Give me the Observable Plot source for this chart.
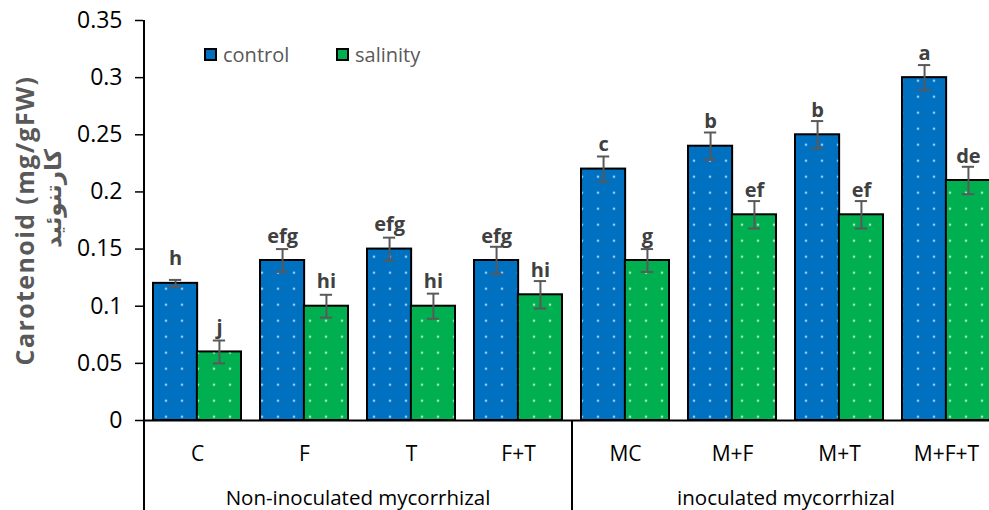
<!DOCTYPE html>
<html>
<head>
<meta charset="utf-8">
<script src="https://cdn.jsdelivr.net/npm/d3@7"></script>
<script src="https://cdn.jsdelivr.net/npm/@observablehq/plot@0.6"></script>
<style>
  html, body { margin: 0; padding: 0; background: #fff; }
  #wrap { position: relative; width: 989px; height: 510px; overflow: hidden; font-family: 'Open Sans', sans-serif; }
  .leg { position: absolute; display: flex; align-items: center; font-size: 20px; color: #595959; }
  .sw { width: 9px; height: 9px; border: 2px solid #000; margin-right: 6px; }
</style>
</head>
<body>
<svg width="0" height="0" style="position:absolute">
  <defs>
    <pattern id="dotBlue" patternUnits="userSpaceOnUse" width="16" height="16" x="14" y="8.7">
      <rect width="16" height="16" fill="#0070C0"></rect>
      <circle cx="8" cy="8" r="1.3" fill="#9CC8EE"></circle>
    </pattern>
    <pattern id="dotGreen" patternUnits="userSpaceOnUse" width="16" height="16" x="14" y="8.7">
      <rect width="16" height="16" fill="#00B050"></rect>
      <circle cx="8" cy="8" r="1.3" fill="#A6E6BE"></circle>
    </pattern>
  </defs>
</svg>
<div id="wrap"></div>
<script>
// ---- data ----
const categories = ["C", "F", "T", "F+T", "MC", "M+F", "M+T", "M+F+T"];
const control = [0.12, 0.14, 0.15, 0.14, 0.22, 0.24, 0.25, 0.30];
const salinity = [0.06, 0.10, 0.10, 0.11, 0.14, 0.18, 0.18, 0.21];
const controlErr = [0.003, 0.010, 0.010, 0.012, 0.011, 0.012, 0.012, 0.011];
const salinityErr = [0.010, 0.010, 0.011, 0.012, 0.010, 0.012, 0.012, 0.012];
const controlLetters = ["h", "efg", "efg", "efg", "c", "b", "b", "a"];
const salinityLetters = ["j", "hi", "hi", "hi", "g", "ef", "ef", "de"];
const groupNames = ["Non-inoculated mycorrhizal", "inoculated mycorrhizal"];
const groupFirst = ["C", "MC"];
const groupMidLeft = ["F", "M+F"];
const seriesNames = ["control", "salinity"];
const yTicks = [0, 0.05, 0.10, 0.15, 0.20, 0.25, 0.30, 0.35];
const yTitle = "Carotenoid (mg/gFW)";
const yTitle2 = "كارتنوئيد";

// ---- tables ----
const ctrl = categories.map((c, i) => ({cat: c, v: control[i], e: controlErr[i], l: controlLetters[i]}));
const sal = categories.map((c, i) => ({cat: c, v: salinity[i], e: salinityErr[i], l: salinityLetters[i]}));
const groups = groupNames.map((g, i) => ({name: g, first: groupFirst[i], mid: groupMidLeft[i]}));

// ---- layout ----
const W = 989, H = 510, mL = 143, mR = -10, mT = 20, mB = 90;
const padInner = 0.18;
const step = (W - mR - mL) / categories.length;
const bw = step * (1 - padInner);
const capW = 12;
const errColor = "#595959";
const fmtY = d => String(+d.toFixed(2));

const chart = Plot.plot({
  width: W, height: H,
  marginLeft: mL, marginRight: mR, marginTop: mT, marginBottom: mB,
  style: {fontFamily: "'Open Sans', sans-serif", fontSize: "20px", color: "#000", background: "transparent"},
  x: {type: "band", domain: categories, paddingInner: padInner, paddingOuter: padInner / 2},
  y: {domain: [0, 0.35]},
  marks: [
    Plot.barY(ctrl, {x: "cat", y: "v", fill: "url(#dotBlue)", stroke: "#000", strokeWidth: 2, insetRight: bw / 2}),
    Plot.barY(sal, {x: "cat", y: "v", fill: "url(#dotGreen)", stroke: "#000", strokeWidth: 2, insetLeft: bw / 2}),
    // error bars
    Plot.ruleX(ctrl, {x: "cat", y1: d => d.v - d.e, y2: d => d.v + d.e, dx: -bw / 4, stroke: errColor, strokeWidth: 2}),
    Plot.ruleX(sal, {x: "cat", y1: d => d.v - d.e, y2: d => d.v + d.e, dx: bw / 4, stroke: errColor, strokeWidth: 2}),
    Plot.tickY(ctrl, {x: "cat", y: d => d.v + d.e, insetLeft: bw / 4 - capW / 2, insetRight: 3 * bw / 4 - capW / 2, stroke: errColor, strokeWidth: 2}),
    Plot.tickY(ctrl, {x: "cat", y: d => d.v - d.e, insetLeft: bw / 4 - capW / 2, insetRight: 3 * bw / 4 - capW / 2, stroke: errColor, strokeWidth: 2}),
    Plot.tickY(sal, {x: "cat", y: d => d.v + d.e, insetLeft: 3 * bw / 4 - capW / 2, insetRight: bw / 4 - capW / 2, stroke: errColor, strokeWidth: 2}),
    Plot.tickY(sal, {x: "cat", y: d => d.v - d.e, insetLeft: 3 * bw / 4 - capW / 2, insetRight: bw / 4 - capW / 2, stroke: errColor, strokeWidth: 2}),
    // significance letters
    Plot.text(ctrl, {x: "cat", y: "v", text: "l", dx: -bw / 4, dy: -18, lineAnchor: "bottom", fontWeight: "bold", fontSize: 20, fill: "#404040"}),
    Plot.text(sal, {x: "cat", y: "v", text: "l", dx: bw / 4, dy: -18, lineAnchor: "bottom", fontWeight: "bold", fontSize: 20, fill: "#404040"}),
    // axes
    Plot.ruleY([0], {stroke: "#000", strokeWidth: 2}),
    Plot.ruleX(groups.slice(0, 1), {x: "first", dx: -step / 2, insetBottom: -mB, stroke: "#000", strokeWidth: 2}),
    Plot.ruleX(groups.slice(1), {x: "first", y1: 0, y2: 0, dx: -step / 2, insetBottom: -mB, stroke: "#000", strokeWidth: 2}),
    Plot.axisY({ticks: yTicks, tickFormat: fmtY, tickSize: 8, tickPadding: 13, label: null, stroke: "#000", strokeWidth: 1.5, fontSize: 23}),
    Plot.axisX({tickSize: 0, tickPadding: 26, label: null, fontSize: 21}),
    Plot.text(groups, {x: "mid", text: "name", frameAnchor: "bottom", dx: step / 2, dy: 78, lineAnchor: "middle", textAnchor: "middle", fontSize: 20.5}),
    // y title
    Plot.text([yTitle], {text: d => d, frameAnchor: "left", textAnchor: "middle", lineAnchor: "middle", rotate: -90, dx: -118, fontWeight: "bold", fontSize: 25, fill: "#595959"}),
    Plot.text([yTitle2], {text: d => d, frameAnchor: "left", textAnchor: "middle", lineAnchor: "middle", rotate: -90, dx: -90, dy: -22, fontWeight: "bold", fontSize: 23, fill: "#595959", fontFamily: "'DejaVu Sans', sans-serif"})
  ]
});

const wrap = document.getElementById("wrap");
wrap.appendChild(chart);

// tick label size and title spacing
const yTickStrings = new Set(yTicks.map(fmtY));
const xTickStrings = new Set(categories);
d3.select(chart).selectAll("text")
  .filter(function () { return yTickStrings.has(this.textContent); })
  .style("font-size", "23px").style("fill", "#000");
d3.select(chart).selectAll("text")
  .filter(function () { return xTickStrings.has(this.textContent); })
  .style("font-size", "21px").style("fill", "#000");
d3.select(chart).selectAll("text")
  .filter(function () { return this.textContent === yTitle; })
  .attr("letter-spacing", "1.4px");

// legend
const legendPos = [{left: 204, top: 41}, {left: 336, top: 41}];
const legendFill = ["#0070C0", "#00B050"];
seriesNames.forEach((name, i) => {
  const div = document.createElement("div");
  div.className = "leg";
  div.style.left = legendPos[i].left + "px";
  div.style.top = legendPos[i].top + "px";
  const sw = document.createElement("span");
  sw.className = "sw";
  sw.style.background = legendFill[i];
  const t = document.createElement("span");
  t.textContent = name;
  div.appendChild(sw);
  div.appendChild(t);
  wrap.appendChild(div);
});
</script>
</body>
</html>
